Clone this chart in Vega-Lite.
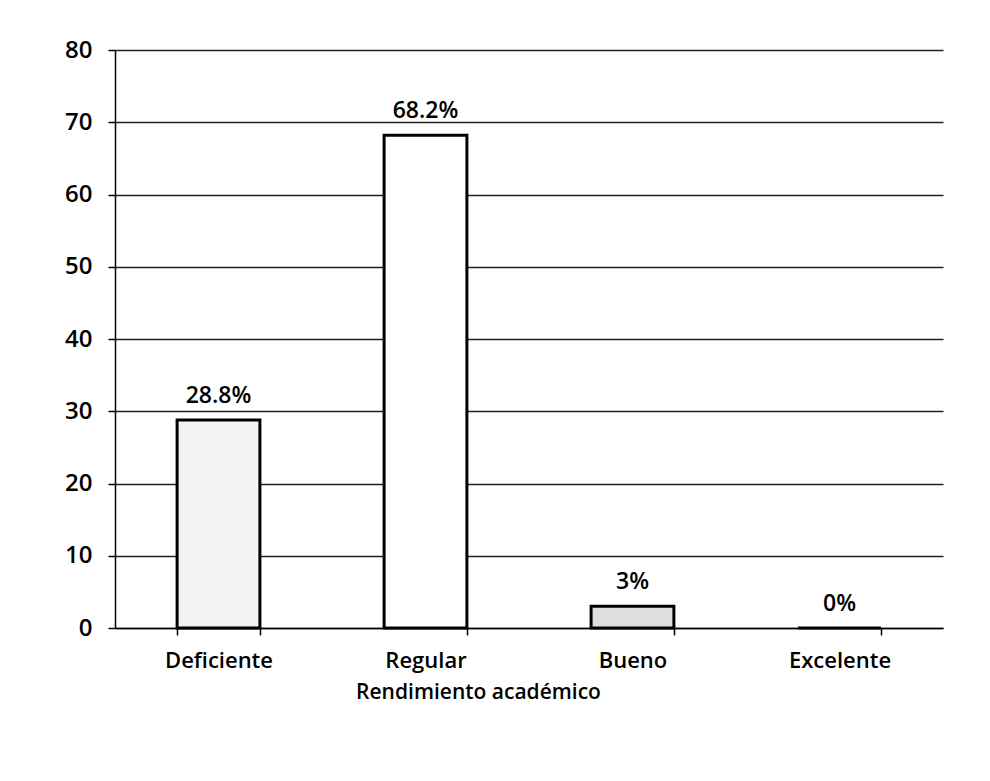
{
  "$schema": "https://vega.github.io/schema/vega-lite/v6.json",
  "width": 828,
  "height": 578,
  "autosize": {"type": "none"},
  "padding": {"left": 115, "top": 50, "right": 47, "bottom": 153},
  "background": "white",
  "config": {
    "view": {"stroke": null},
    "font": "Open Sans"
  },
  "data": {
    "values": [
      {"categoria": "Deficiente", "valor": 28.8, "etiqueta": "28.8%"},
      {"categoria": "Regular", "valor": 68.2, "etiqueta": "68.2%"},
      {"categoria": "Bueno", "valor": 3, "etiqueta": "3%"},
      {"categoria": "Excelente", "valor": 0, "etiqueta": "0%"}
    ]
  },
  "encoding": {
    "x": {
      "field": "categoria",
      "type": "nominal",
      "sort": null,
      "scale": {"paddingInner": 0.6, "paddingOuter": 0.3},
      "axis": {
        "title": "Rendimiento académico",
        "titleFont": "Open Sans",
        "titleFontSize": 21,
        "titleFontWeight": 600,
        "titleColor": "black",
        "titlePadding": 10,
        "titleX": 363,
        "labelAngle": 0,
        "labelFont": "Open Sans",
        "labelFontSize": 22,
        "labelFontWeight": 600,
        "labelColor": "black",
        "labelPadding": 15,
        "domainColor": "black",
        "domainWidth": 1.5,
        "tickColor": "black",
        "tickBand": "extent",
        "tickSize": 7,
        "tickWidth": 1.5
      }
    },
    "y": {
      "field": "valor",
      "type": "quantitative",
      "scale": {"domain": [0, 80]},
      "axis": {
        "title": null,
        "values": [0, 10, 20, 30, 40, 50, 60, 70, 80],
        "labelFont": "Open Sans",
        "labelFontSize": 24,
        "labelFontWeight": 600,
        "labelColor": "black",
        "labelPadding": 16,
        "domainColor": "black",
        "domainWidth": 1.5,
        "tickColor": "black",
        "tickSize": 7,
        "tickWidth": 1.5,
        "grid": true,
        "gridColor": "#222222",
        "gridWidth": 1.3
      }
    }
  },
  "layer": [
    {
      "mark": {"type": "bar", "stroke": "black", "strokeWidth": 3},
      "encoding": {
        "fill": {
          "field": "categoria",
          "type": "nominal",
          "legend": null,
          "scale": {
            "domain": ["Deficiente", "Regular", "Bueno", "Excelente"],
            "range": ["#f3f3f3", "#ffffff", "#dedede", "#ffffff"]
          }
        }
      }
    },
    {
      "mark": {"type": "text", "baseline": "bottom", "dy": -12, "fontSize": 23, "fontWeight": 600, "font": "Open Sans", "color": "black"},
      "encoding": {
        "text": {"field": "etiqueta"}
      }
    }
  ]
}
